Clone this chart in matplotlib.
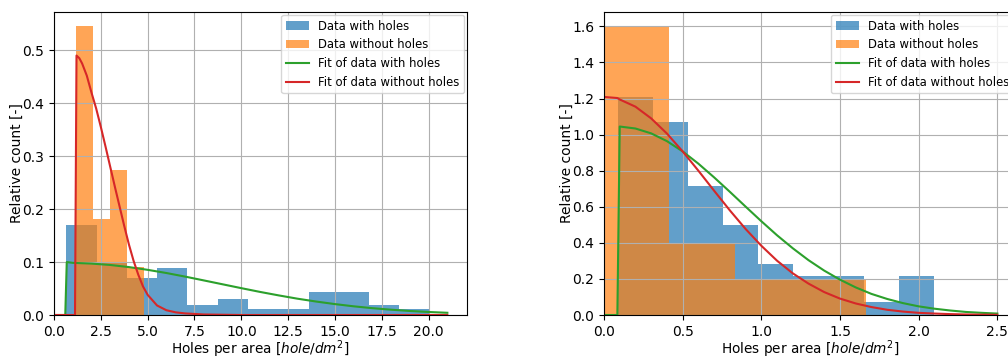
# Histogramas de agujeros por area, con y sin agujeros, y sus ajustes
import numpy as np
import matplotlib
matplotlib.use('Agg')
import matplotlib.pyplot as plt

# Datos izquierda: densidad relativa por bin
izq_holes_edges = [0.66, 2.28, 3.89, 5.51, 7.12, 8.74, 10.36, 11.97, 13.59, 15.20, 16.82, 18.44, 20.05]
izq_holes_dens = [0.170, 0.098, 0.069, 0.088, 0.019, 0.031, 0.012, 0.012, 0.044, 0.044, 0.018, 0.012]
izq_noholes_edges = [1.16, 2.07, 2.99, 3.90, 4.81]
izq_noholes_dens = [0.545, 0.182, 0.273, 0.091]

# Curvas de ajuste izquierda (puntos leidos)
izq_fit_holes_x = [0, 0.60, 0.68, 1, 2, 3, 4, 5, 6, 7, 8, 9, 10, 11, 12, 13, 14, 15, 16, 17, 18, 19, 20, 21]
izq_fit_holes_y = [0, 0, 0.100, 0.0985, 0.0971, 0.0945, 0.0905, 0.0853, 0.0793, 0.0725, 0.0653, 0.0580,
                   0.0507, 0.0436, 0.0370, 0.0308, 0.0254, 0.0206, 0.0164, 0.0129, 0.0100, 0.0076, 0.0057, 0.0042]
izq_fit_noholes_x = [0, 1.12, 1.20, 1.35, 1.5, 1.75, 2.0, 2.25, 2.5, 2.75, 3.0, 3.25, 3.5, 3.75, 4.0, 4.25,
                     4.5, 4.75, 5.0, 5.5, 6.0, 6.5, 7.0, 8.0, 10.0, 21.0]
izq_fit_noholes_y = [0, 0, 0.490, 0.485, 0.475, 0.452, 0.420, 0.390, 0.355, 0.318, 0.280, 0.242, 0.205,
                     0.168, 0.133, 0.102, 0.076, 0.054, 0.038, 0.018, 0.009, 0.005, 0.003, 0.001, 0, 0]

# Datos derecha
der_holes_edges = [0.091, 0.314, 0.536, 0.759, 0.982, 1.204, 1.427, 1.650, 1.873, 2.095]
der_holes_dens = [1.21, 1.07, 0.714, 0.50, 0.285, 0.214, 0.214, 0.071, 0.214]
der_noholes_edges = [0.0, 0.416, 0.833, 1.249, 1.665]
der_noholes_dens = [1.6, 0.4, 0.2, 0.2]

der_fit_x = [0, 0.085, 0.1, 0.2, 0.3, 0.4, 0.5, 0.6, 0.7, 0.8, 0.9, 1.0, 1.1, 1.2, 1.3,
             1.4, 1.5, 1.6, 1.7, 1.8, 1.9, 2.0, 2.1, 2.2, 2.3, 2.4, 2.5]
der_fit_holes_y = [0, 0, 1.045, 1.034, 1.007, 0.964, 0.907, 0.839, 0.763, 0.683, 0.601, 0.520, 0.442,
                   0.370, 0.304, 0.246, 0.196, 0.153, 0.117, 0.089, 0.066, 0.048, 0.035, 0.025, 0.017, 0.012, 0.008]
der_fit_noholes_y = [1.209, 1.203, 1.195, 1.155, 1.090, 1.006, 0.907, 0.800, 0.689, 0.580, 0.477, 0.384,
                     0.301, 0.231, 0.174, 0.127, 0.091, 0.064, 0.044, 0.029, 0.019, 0.012, 0.008, 0.005,
                     0.003, 0.002, 0.001]


def grafico(ax, h_edges, h_dens, n_edges, n_dens, fx1, fy1, fx2, fy2):
    ax.hist(h_edges[:-1], bins=h_edges, weights=h_dens, alpha=0.7, label='Data with holes')
    ax.hist(n_edges[:-1], bins=n_edges, weights=n_dens, alpha=0.7, label='Data without holes')
    ax.plot(fx1, fy1, color='C2', label='Fit of data with holes')
    ax.plot(fx2, fy2, color='C3', label='Fit of data without holes')
    ax.grid()
    ax.set_xlim(left=0)
    ax.legend(loc='upper right', fontsize='small', borderaxespad=0.25)
    ax.set_ylabel('Relative count [-]', labelpad=-1)
    ax.set_xlabel('Holes per area [$hole/dm^2$]', labelpad=-0.5, fontsize=9.8)


fig = plt.figure(figsize=(10.08, 3.58), dpi=100)
ax1 = fig.add_axes([0.0536, 0.1201, 0.4097, 0.8464])
ax2 = fig.add_axes([0.5992, 0.1201, 0.4097, 0.8464])

grafico(ax1, izq_holes_edges, izq_holes_dens, izq_noholes_edges, izq_noholes_dens,
        izq_fit_holes_x, izq_fit_holes_y, izq_fit_noholes_x, izq_fit_noholes_y)
grafico(ax2, der_holes_edges, der_holes_dens, der_noholes_edges, der_noholes_dens,
        der_fit_x, der_fit_holes_y, der_fit_x, der_fit_noholes_y)

fig.savefig('out.png', dpi=100)
